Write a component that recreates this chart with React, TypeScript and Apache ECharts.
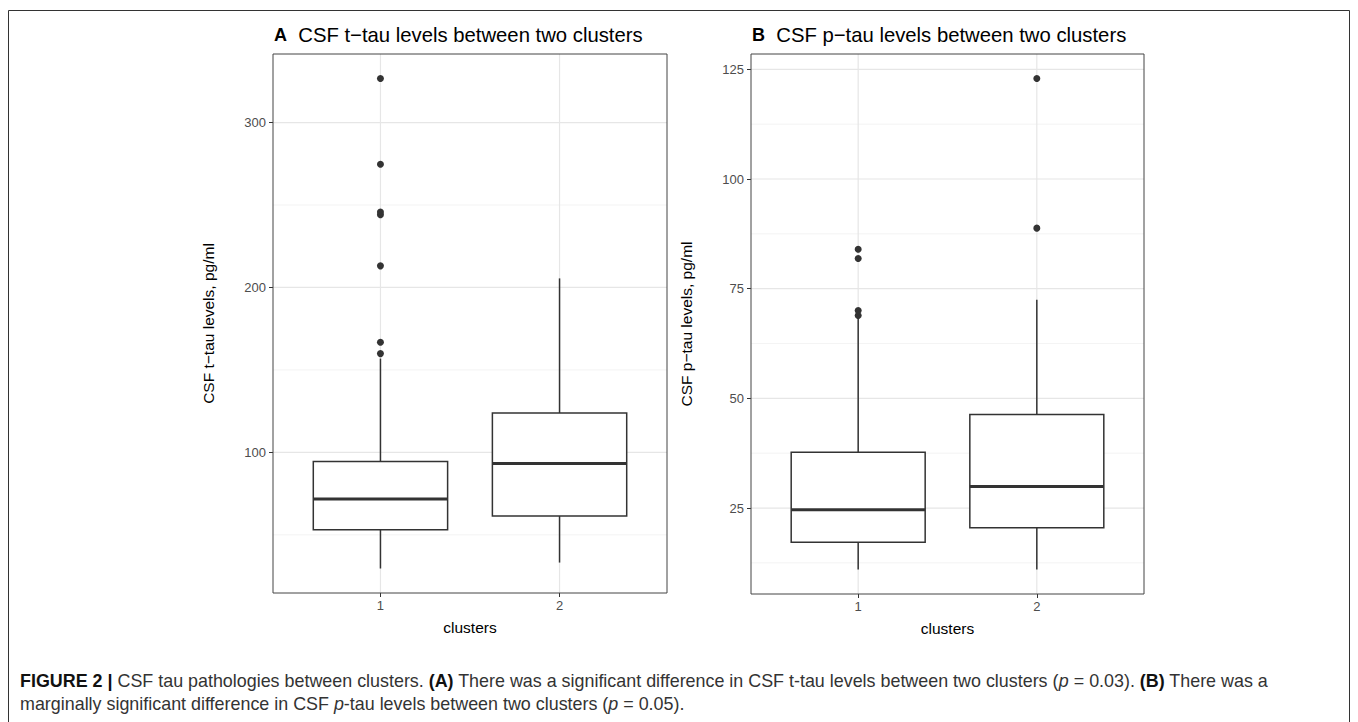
import React, { useEffect, useRef } from "react";
import * as echarts from "echarts";

// ---------- data ----------
const clusters = ["1", "2"];
const clusterPos = [1, 2];

// Panel A: CSF t-tau  [lowerWhisker, Q1, median, Q3, upperWhisker]
const tTauStats = [
  [29.6, 53.1, 71.7, 94.5, 156.9],
  [33.2, 61.4, 93.3, 123.9, 205.5],
];
const tTauOutliers1 = [159.9, 166.8, 213.1, 244.1, 245.7, 274.7, 326.7];
const tTauOutliers2: number[] = [];
const tTauMajor = [100, 200, 300];
const tTauMinor = [50, 150, 250];

// Panel B: CSF p-tau
const pTauStats = [
  [11.0, 17.2, 24.6, 37.7, 68.4],
  [11.0, 20.5, 29.9, 46.3, 72.5],
];
const pTauOutliers1 = [68.9, 70.0, 81.9, 84.0];
const pTauOutliers2 = [88.8, 122.9];
const pTauMajor = [25, 50, 75, 100, 125];
const pTauMinor = [12.5, 37.5, 62.5, 87.5, 112.5];

const titleA = "CSF t\u2212tau levels between two clusters";
const titleB = "CSF p\u2212tau levels between two clusters";
const yNameA = "CSF t\u2212tau levels, pg/ml";
const yNameB = "CSF p\u2212tau levels, pg/ml";
const xName = "clusters";

// ---------- helpers ----------
const FONT = "'Liberation Sans', Arial, Helvetica, sans-serif";
const X_MIN = 0.4;
const X_MAX = 2.6;
const BOX_HALF = 0.375;

function yRange(stats: number[][], outs: number[][]) {
  const all: number[] = [];
  stats.forEach((s) => all.push(...s));
  outs.forEach((o) => all.push(...o));
  const lo = Math.min(...all);
  const hi = Math.max(...all);
  const pad = (hi - lo) * 0.05;
  return [lo - pad, hi + pad];
}

function buildPanel(
  idx: number,
  stats: number[][],
  outs: number[][],
  major: number[],
  minor: number[],
  yName: string
) {
  const [yMin, yMax] = yRange(stats, outs);
  const grid = idx === 0
    ? { left: 273, top: 54, width: 394, height: 539 }
    : { left: 751, top: 54, width: 393, height: 540 };

  const xAxis = {
    type: "value",
    gridIndex: idx,
    min: X_MIN,
    max: X_MAX,
    name: xName,
    nameLocation: "middle",
    nameGap: 26,
    nameTextStyle: { fontFamily: FONT, fontSize: 15.5, color: "#000" },
    axisLine: { show: false },
    splitLine: { show: false },
    axisTick: {
      show: true,
      customValues: clusterPos,
      length: 4,
      lineStyle: { color: "#333", width: 1 },
    },
    axisLabel: {
      show: true,
      customValues: clusterPos,
      formatter: (v: number) => clusters[clusterPos.indexOf(Math.round(v))] ?? "",
      margin: 6,
      fontFamily: FONT,
      fontSize: 13,
      color: "#4D4D4D",
    },
  };

  const yAxis = {
    type: "value",
    gridIndex: idx,
    min: yMin,
    max: yMax,
    name: yName,
    nameLocation: "middle",
    nameGap: 57,
    nameRotate: 90,
    nameTextStyle: { fontFamily: FONT, fontSize: 15.5, color: "#000" },
    axisLine: { show: false },
    splitLine: { show: false },
    axisTick: {
      show: true,
      customValues: major,
      length: 4,
      lineStyle: { color: "#333", width: 1 },
    },
    axisLabel: {
      show: true,
      customValues: major,
      margin: 7,
      fontFamily: FONT,
      fontSize: 13,
      color: "#4D4D4D",
    },
  };

  const gridLineData: number[][] = [];
  minor.forEach((v) => gridLineData.push([0, v, 0]));
  major.forEach((v) => gridLineData.push([0, v, 1]));
  clusterPos.forEach((v) => gridLineData.push([1, v, 1]));

  const gridSeries = {
    type: "custom",
    xAxisIndex: idx,
    yAxisIndex: idx,
    silent: true,
    z: 0,
    data: gridLineData,
    renderItem: (params: any, api: any) => {
      const orient = api.value(0);
      const v = api.value(1);
      const isMajor = api.value(2) === 1;
      const cs = params.coordSys;
      const style = {
        stroke: isMajor ? "#E6E6E6" : "#F0F0F0",
        lineWidth: isMajor ? 1.2 : 0.8,
      };
      if (orient === 0) {
        const y = api.coord([X_MIN, v])[1];
        return { type: "line", shape: { x1: cs.x, y1: y, x2: cs.x + cs.width, y2: y }, style };
      }
      const x = api.coord([v, yMin])[0];
      return { type: "line", shape: { x1: x, y1: cs.y, x2: x, y2: cs.y + cs.height }, style };
    },
  };

  const boxData = stats.map((s, i) => [clusterPos[i], ...s]);
  const boxSeries = {
    type: "custom",
    xAxisIndex: idx,
    yAxisIndex: idx,
    z: 2,
    data: boxData,
    renderItem: (_params: any, api: any) => {
      const x = api.value(0);
      const lo = api.coord([x, api.value(1)]);
      const q1c = api.coord([x, api.value(2)]);
      const q3c = api.coord([x, api.value(4)]);
      const hi = api.coord([x, api.value(5)]);
      const q1L = api.coord([x - BOX_HALF, api.value(2)]);
      const q3R = api.coord([x + BOX_HALF, api.value(4)]);
      const medL = api.coord([x - BOX_HALF, api.value(3)]);
      const medR = api.coord([x + BOX_HALF, api.value(3)]);
      const stroke = "#333";
      return {
        type: "group",
        children: [
          { type: "line", shape: { x1: lo[0], y1: lo[1], x2: q1c[0], y2: q1c[1] }, style: { stroke, lineWidth: 1.5 } },
          { type: "line", shape: { x1: q3c[0], y1: q3c[1], x2: hi[0], y2: hi[1] }, style: { stroke, lineWidth: 1.5 } },
          {
            type: "rect",
            shape: { x: q1L[0], y: q3R[1], width: q3R[0] - q1L[0], height: q1L[1] - q3R[1] },
            style: { fill: "#fff", stroke, lineWidth: 1.5 },
          },
          { type: "line", shape: { x1: medL[0], y1: medL[1], x2: medR[0], y2: medR[1] }, style: { stroke, lineWidth: 3 } },
        ],
      };
    },
  };

  const outData: number[][] = [];
  outs.forEach((arr, i) => arr.forEach((v) => outData.push([clusterPos[i], v])));
  const outSeries = {
    type: "scatter",
    xAxisIndex: idx,
    yAxisIndex: idx,
    z: 3,
    symbol: "circle",
    symbolSize: 7,
    itemStyle: { color: "#333", opacity: 1 },
    data: outData,
  };

  return { grid, xAxis, yAxis, series: [gridSeries, boxSeries, outSeries] };
}

export default function App() {
  const ref = useRef<HTMLDivElement>(null);

  useEffect(() => {
    if (!ref.current) return;
    const chart = echarts.init(ref.current, undefined, { renderer: "svg" });

    const pA = buildPanel(0, tTauStats, [tTauOutliers1, tTauOutliers2], tTauMajor, tTauMinor, yNameA);
    const pB = buildPanel(1, pTauStats, [pTauOutliers1, pTauOutliers2], pTauMajor, pTauMinor, yNameB);

    const capFont = FONT;
    const CAP = 17.9;
    const capRich = {
      fb: { fontFamily: capFont, fontSize: CAP, fontWeight: "bold", fill: "#111" },
      b: { fontFamily: capFont, fontSize: CAP, fontWeight: "bold", fill: "#111" },
      i: { fontFamily: capFont, fontSize: CAP, fontStyle: "italic", fill: "#333" },
    };

    chart.setOption({
      animation: false,
      backgroundColor: "#fff",
      grid: [
        { ...pA.grid, show: true, borderColor: "#444", borderWidth: 1, backgroundColor: "transparent", z: 5 },
        { ...pB.grid, show: true, borderColor: "#444", borderWidth: 1, backgroundColor: "transparent", z: 5 },
      ],
      xAxis: [pA.xAxis, pB.xAxis],
      yAxis: [pA.yAxis, pB.yAxis],
      series: [...pA.series, ...pB.series],
      graphic: [
        {
          type: "rect",
          shape: { x: 8.5, y: 10.5, width: 1341, height: 730 },
          style: { fill: "none", stroke: "#333", lineWidth: 1 },
          silent: true,
        },
        {
          type: "text",
          x: 274,
          y: 35,
          style: {
            text: "{l|A}  " + titleA,
            fontFamily: FONT,
            fontSize: 20.3,
            fill: "#000",
            verticalAlign: "middle",
            rich: { l: { fontFamily: FONT, fontSize: 18, fontWeight: "bold", fill: "#000" } },
          },
        },
        {
          type: "text",
          x: 752,
          y: 35,
          style: {
            text: "{l|B}  " + titleB,
            fontFamily: FONT,
            fontSize: 20.3,
            fill: "#000",
            verticalAlign: "middle",
            rich: { l: { fontFamily: FONT, fontSize: 18, fontWeight: "bold", fill: "#000" } },
          },
        },
        {
          type: "text",
          x: 20,
          y: 681,
          style: {
            text:
              "{fb|FIGURE 2 |} CSF tau pathologies between clusters. {b|(A)} There was a significant difference in CSF t-tau levels between two clusters ({i|p} = 0.03). {b|(B)} There was a",
            fontFamily: capFont,
            fontSize: CAP,
            fill: "#333",
            verticalAlign: "middle",
            rich: capRich,
          },
        },
        {
          type: "text",
          x: 20,
          y: 704,
          style: {
            text: "marginally significant difference in CSF {i|p}-tau levels between two clusters ({i|p} = 0.05).",
            fontFamily: capFont,
            fontSize: CAP,
            fill: "#333",
            verticalAlign: "middle",
            rich: capRich,
          },
        },
      ],
    });

    return () => chart.dispose();
  }, []);

  return (
    <div
      ref={ref}
      style={{ position: "fixed", left: 0, top: 0, width: 1358, height: 722, background: "#fff" }}
    />
  );
}
